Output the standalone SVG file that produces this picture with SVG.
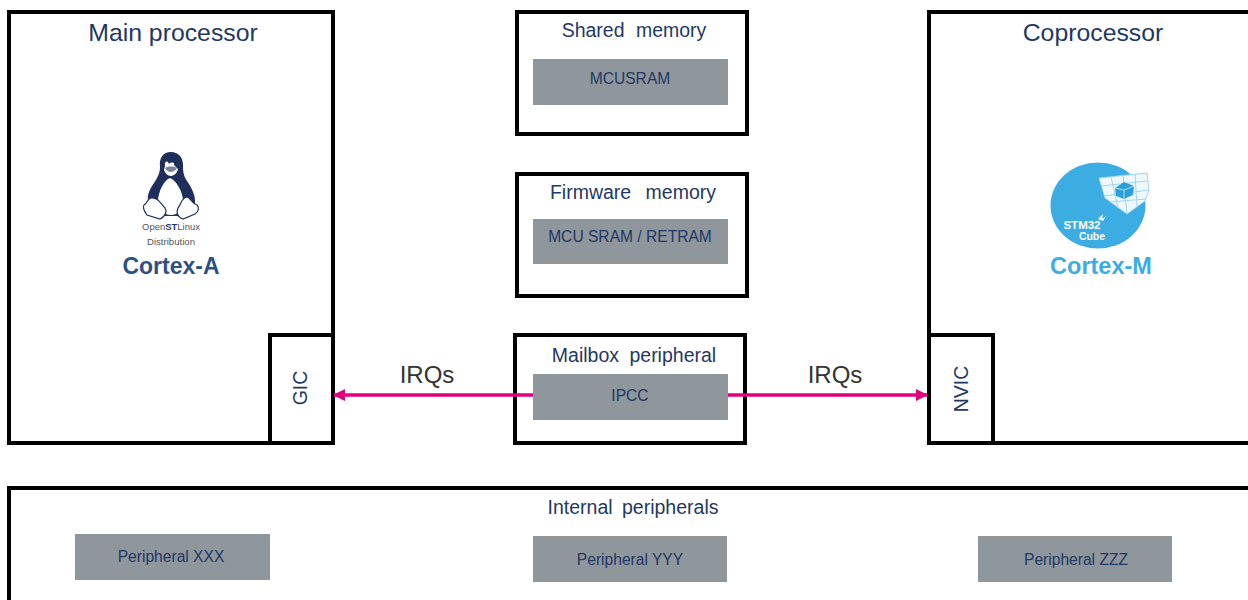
<svg xmlns="http://www.w3.org/2000/svg" width="1248" height="600" viewBox="0 0 1248 600">
<style>
text{font-family:"Liberation Sans",Arial,sans-serif;fill:#1f3864;text-anchor:middle}
.box{fill:#fff;stroke:#000;stroke-width:4}
.grey{fill:#8f969c}
.t1{font-size:24.8px}
.t2{font-size:19.5px}
.t3{font-size:15.6px}
.irq{font-size:24px;fill:#333}
.line{stroke:#e0007e;stroke-width:3.5;fill:none}
.grid{stroke:#9dd6f0;stroke-width:1;fill:none}
</style>
<defs>
<marker id="arrow" markerUnits="userSpaceOnUse" markerWidth="12" markerHeight="14" refX="11" refY="6" orient="auto-start-reverse" viewBox="0 0 12 12"><path d="M0 0L12 6L0 12Z" fill="#e0007e"/></marker>
</defs>
<g id="main-processor">
<rect class="box" x="9" y="12" width="324" height="431"/>
<text class="t1" x="173" y="41">Main processor</text>
<g id="tux">
<path d="M171 152C163 152 159 158 160 167C160 174 157 178 154 183C149 190 146 197 149 204L160 216H184L195 204C196 195 191 187 187 181C183 175 183 170 183 165C183 157 178 152 171 152Z" fill="#1f2f5c"/>
<path d="M170 178C164 180 158 192 158 201C158 210 163 215 171 215C178 215 183 210 183 201C183 192 176 180 170 178Z" fill="#fff"/>
<path d="M165 166C164 161 168 160 169 164C171 162 175 162 174 165L178 169C177 174 173 176 171 176C168 176 165 173 164 170Z" fill="#fff"/>
<path d="M165 168C168 166 174 166 177 168C175 171 172 172 171 172C169 172 167 171 165 168Z" fill="#1f2f5c" opacity=".6"/>
<path d="M151 198C147 199 148 203 144 205C142 208 145 212 147 215L160 219C166 216 167 211 165 208C161 204 158 197 151 198Z" fill="#fff" stroke="#1f2f5c" stroke-width="1.2"/>
<path d="M187 197C191 198 191 203 197 205C200 208 198 212 195 214L183 219C177 217 176 212 178 208C181 205 181 198 187 197Z" fill="#fff" stroke="#1f2f5c" stroke-width="1.2"/>
</g>
<text x="171" y="230" style="font-size:9.5px;fill:#555" textLength="58" lengthAdjust="spacingAndGlyphs">Open<tspan style="font-weight:bold;fill:#1f3864">ST</tspan>Linux</text>
<text x="171" y="245" style="font-size:9.5px;fill:#555" textLength="48" lengthAdjust="spacingAndGlyphs">Distribution</text>
<text x="171" y="274" style="font-size:23px;font-weight:bold;fill:#2c5282">Cortex-A</text>
</g>
<g id="gic">
<rect class="box" x="270" y="335" width="63" height="108"/>
<text class="t2" transform="translate(307 388) rotate(-90)">GIC</text>
</g>
<g id="coprocessor">
<path class="box" d="M1250 12H929V443H1250"/>
<text class="t1" x="1093" y="41">Coprocessor</text>
<g id="cube">
<ellipse cx="1098" cy="205.500" rx="47.500" ry="43" fill="#3bade2"/>
<path d="M1099 178L1147 173L1149 190L1145 201L1127 214L1105 198Z" fill="#eef7fc" stroke="#9dd6f0"/>
<path class="grid" d="M1111 176.500L1118 208M1123 175.500L1127 214M1135 174L1137 207M1102 186L1147 181M1104 196L1149 190M1110 202L1146 199"/>
<path d="M1115 188L1124 182L1134 186L1133 195L1124 199L1116 196Z" fill="#2d9fd8"/>
<path d="M1124 190L1134 186M1124 190V199M1124 190L1115 188" stroke="#fff" stroke-width=".6" fill="none"/>
<text x="1082" y="229" style="font-size:11.500px;font-weight:bold;fill:#fff">STM32</text>
<text x="1092" y="240" style="font-size:10.500px;font-weight:bold;fill:#fff">Cube</text>
<path d="M1098 219L1103 214L1102 219L1106 216L1103 221Z" fill="#fff"/>
</g>
<text x="1101" y="274" style="font-size:23.500px;font-weight:bold;fill:#3bade2">Cortex-M</text>
</g>
<g id="nvic">
<rect class="box" x="929" y="335" width="64" height="108"/>
<text class="t2" transform="translate(968 389) rotate(-90)">NVIC</text>
</g>
<g id="shared-memory">
<rect class="box" x="517" y="12" width="230" height="122"/>
<text class="t2" x="634" y="37" style="word-spacing:6px">Shared memory</text>
<rect class="grey" x="533" y="59" width="195" height="46"/>
<text class="t3" x="630" y="84">MCUSRAM</text>
</g>
<g id="firmware-memory">
<rect class="box" x="517" y="174" width="230" height="122"/>
<text class="t2" x="633" y="199" style="word-spacing:9px">Firmware memory</text>
<rect class="grey" x="533" y="219" width="195" height="45"/>
<text class="t3" x="630" y="242">MCU SRAM / RETRAM</text>
</g>
<g id="mailbox">
<rect class="box" x="515" y="335" width="230" height="108"/>
<text class="t2" x="634" y="362" style="word-spacing:5px">Mailbox peripheral</text>
<rect class="grey" x="533" y="374" width="195" height="46"/>
<text class="t3" x="630" y="401">IPCC</text>
</g>
<g id="connectors">
<path class="line" d="M533 395H334" marker-end="url(#arrow)"/>
<path class="line" d="M728 395H927" marker-end="url(#arrow)"/>
</g>
<text class="irq" x="427" y="383">IRQs</text>
<text class="irq" x="835" y="383">IRQs</text>
<g id="internal-peripherals">
<rect class="box" x="9" y="488" width="1245" height="120"/>
<text class="t2" x="633" y="514" style="word-spacing:4px">Internal peripherals</text>
</g>
<g id="peripheral-xxx">
<rect class="grey" x="75" y="534" width="195" height="46"/>
<text class="t3" x="171" y="562">Peripheral XXX</text>
</g>
<g id="peripheral-yyy">
<rect class="grey" x="533" y="536" width="194" height="46"/>
<text class="t3" x="630" y="565">Peripheral YYY</text>
</g>
<g id="peripheral-zzz">
<rect class="grey" x="978" y="536" width="194" height="46"/>
<text class="t3" x="1076" y="565">Peripheral ZZZ</text>
</g>
</svg>
